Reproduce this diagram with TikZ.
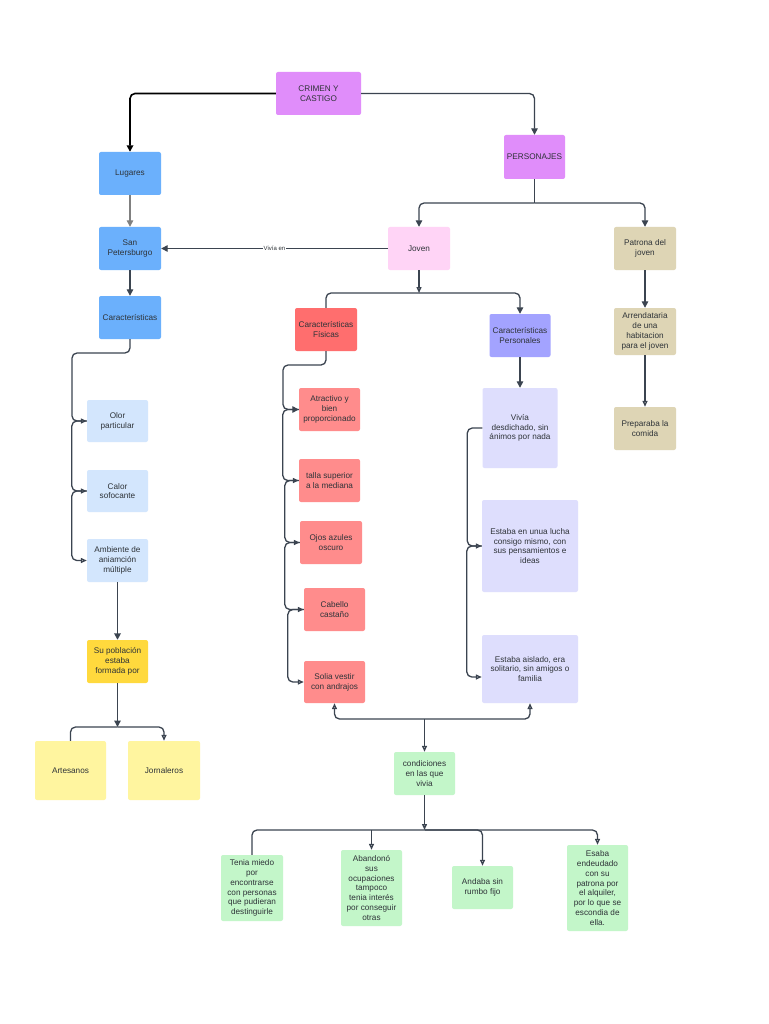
\documentclass[tikz,border=0pt]{standalone}
\usepackage{fontspec}
\setmainfont{Liberation Sans}
\usetikzlibrary{arrows.meta}
\definecolor{violetc}{HTML}{E08DFA}
\definecolor{bluec}{HTML}{6BB0FC}
\definecolor{lbluec}{HTML}{D3E6FD}
\definecolor{yellowc}{HTML}{FFD93D}
\definecolor{lyellowc}{HTML}{FFF59F}
\definecolor{pinkc}{HTML}{FFD4F6}
\definecolor{tanc}{HTML}{DED5B5}
\definecolor{redc}{HTML}{FF6E6E}
\definecolor{salmonc}{HTML}{FF8C8C}
\definecolor{purplec}{HTML}{A3A3FF}
\definecolor{lavc}{HTML}{DEDEFD}
\definecolor{greenc}{HTML}{C3F6C9}
\definecolor{txtc}{HTML}{2E3338}
\definecolor{linec}{HTML}{3B4450}
\tikzset{
  box/.style={rectangle, rounded corners=2pt, inner sep=0pt, align=center,
    text=txtc, font=\fontsize{8.2}{9.8}\selectfont},
  sz/.style 2 args={minimum width=#1pt, minimum height=#2pt},
  conn/.style={draw=linec, line width=1.3pt, rounded corners=5pt},
  fa/.style={-{Triangle[length=6.5pt,width=6.5pt]}},
  oa/.style={-{Triangle[open,length=6pt,width=5pt]}},
  lbl/.style={fill=white, inner sep=0.6pt, text=txtc, font=\fontsize{6}{7}\selectfont}
}
\begin{document}
\begin{tikzpicture}[x=1pt,y=-1pt]
\fill[white] (0,0) rectangle (768,1024);
\useasboundingbox (0,0) rectangle (768,1024);
% nodes
\node[box, fill=violetc, sz={85}{43}] (crimen) at (318.5,93.5) {CRIMEN Y\\CASTIGO};
\node[box, fill=violetc, sz={61}{44}] (personajes) at (534.5,157) {PERSONAJES};
\node[box, fill=bluec, sz={62}{43}] (lugares) at (130,173.5) {Lugares};
\node[box, fill=bluec, sz={62}{43}] (sanpet) at (130,248.5) {San\\Petersburgo};
\node[box, fill=bluec, sz={62}{43}] (caract) at (130,317.5) {Características};
\node[box, fill=lbluec, sz={61}{42}] (olor) at (117.5,421) {Olor\\particular};
\node[box, fill=lbluec, sz={61}{42}] (calor) at (117.5,491) {Calor\\sofocante};
\node[box, fill=lbluec, sz={61}{43}] (ambiente) at (117.5,560.5) {Ambiente de\\aniamción\\múltiple};
\node[box, fill=yellowc, sz={61}{43}] (poblacion) at (117.5,661.5) {Su población\\estaba\\formada por};
\node[box, fill=lyellowc, sz={71}{59}] (artesanos) at (70.5,770.5) {Artesanos};
\node[box, fill=lyellowc, sz={72}{59}] (jornaleros) at (164,770.5) {Jornaleros};
\node[box, fill=pinkc, sz={62}{43}] (joven) at (419,248.5) {Joven};
\node[box, fill=tanc, sz={62}{43}] (patrona) at (645,248.5) {Patrona del\\joven};
\node[box, fill=tanc, sz={62}{47}] (arrend) at (645,331.5) {Arrendataria\\de una\\habitacion\\para el joven};
\node[box, fill=tanc, sz={62}{43}] (prepara) at (645,428.5) {Preparaba la\\comida};
\node[box, fill=redc, sz={62}{43}] (fisicas) at (326,329.5) {Características\\Físicas};
\node[box, fill=purplec, sz={61}{43}] (personales) at (520,335.5) {Características\\Personales};
\node[box, fill=lavc, sz={75}{80}] (vivia) at (520,428) {Vivía\\desdichado, sin\\ánimos por nada};
\node[box, fill=lavc, sz={96}{92}] (lucha) at (530,546) {Estaba en unua lucha\\consigo mismo, con\\sus pensamientos e\\ideas};
\node[box, fill=lavc, sz={96}{68}] (aislado) at (530,669) {Estaba aislado, era\\solitario, sin amigos o\\familia};
\node[box, fill=salmonc, sz={61}{43}] (atractivo) at (329.5,409.5) {Atractivo y\\bien\\proporcionado};
\node[box, fill=salmonc, sz={61}{43}] (talla) at (329.5,480.5) {talla superior\\a la mediana};
\node[box, fill=salmonc, sz={62}{43}] (ojos) at (331,542.5) {Ojos azules\\oscuro};
\node[box, fill=salmonc, sz={61}{43}] (cabello) at (334.5,609.5) {Cabello\\castaño};
\node[box, fill=salmonc, sz={61}{42}] (solia) at (334.5,682) {Solia vestir\\con andrajos};
\node[box, fill=greenc, sz={61}{43}] (condiciones) at (424.5,773.5) {condiciones\\en las que\\vivia};
\node[box, fill=greenc, sz={62}{66}] (tenia) at (252,888) {Tenia miedo\\por\\encontrarse\\con personas\\que pudieran\\destinguirle};
\node[box, fill=greenc, sz={61}{76}] (abandono) at (371.5,888) {Abandonó\\sus\\ocupaciones\\tampoco\\tenia interés\\por conseguir\\otras};
\node[box, fill=greenc, sz={61}{43}] (andaba) at (482.5,887.5) {Andaba sin\\rumbo fijo};
\node[box, fill=greenc, sz={61}{86}] (esaba) at (597.5,888) {Esaba\\endeudado\\con su\\patrona por\\el alquiler,\\por lo que se\\escondia de\\ella.};
% junction coordinates
\coordinate (pj) at (534.5,203);
\coordinate (jv) at (419,293);
\coordinate (pb) at (117.5,727);
\coordinate (cj) at (424.5,719);
\coordinate (cb) at (424.5,830);
% connectors
\draw[conn, draw=black, line width=1.6pt, fa] (crimen.west) -| (lugares.north);
\draw[conn, fa] (crimen.east) -| (personajes.north);
\draw[conn, draw=gray, fa] (lugares.south) -- (sanpet.north);
\draw[conn, fa] (sanpet.south) -- (caract.north);
\draw[conn, fa] (joven.west) -- node[lbl, pos=0.5]{Vivía en} (sanpet.east);
\draw[conn] (personajes.south) -- (pj);
\draw[conn, fa] (pj) -| (joven.north);
\draw[conn, fa] (pj) -| (patrona.north);
\draw[conn, fa] (patrona.south) -- (arrend.north);
\draw[conn, oa] (arrend.south) -- (prepara.north);
% joven branches
\draw[conn, oa] (joven.south) -- (jv);
\draw[conn] (jv) -| (fisicas.north);
\draw[conn, fa] (jv) -| (personales.north);
% left chain
\draw[conn, oa] (caract.south) |- (72,353) |- (olor.west);
\draw[conn, oa] (olor.west) -- ++(-15,0) |- (calor.west);
\draw[conn, oa] (calor.west) -- ++(-15,0) |- (ambiente.west);
\draw[conn, line width=1.8pt, fa] (ambiente.south) -- (poblacion.north);
\draw[conn, fa] (poblacion.south) -- (pb);
\draw[conn] (pb) -| (artesanos.north);
\draw[conn, oa] (pb) -| (jornaleros.north);
% fisicas chain
\draw[conn, fa] (fisicas.south) |- (283,365) |- (atractivo.west);
\draw[conn, oa] (atractivo.west) -- ++(-16,0) |- (talla.west);
\draw[conn, oa] (talla.west) -- ++(-14,0) |- (ojos.west);
\draw[conn, oa] (ojos.west) -- ++(-15,0) |- (cabello.west);
\draw[conn, oa] (cabello.west) -- ++(-16,0) |- (solia.west);
% personales chain
\draw[conn, fa] (personales.south) -- (vivia.north);
\draw[conn, oa] (vivia.west) -- ++(-15,0) |- (lucha.west);
\draw[conn, oa] (lucha.west) -- ++(-15,0) |- ([yshift=-8pt]aislado.west);
% condiciones
\draw[conn, {Triangle[open,length=6pt,width=5pt]}-{Triangle[open,length=6pt,width=5pt]}] (solia.south) |- (cj) -| (aislado.south);
\draw[conn, oa] (cj) -- (condiciones.north);
\draw[conn, oa] (condiciones.south) -- (cb);
\draw[conn] (cb) -| (tenia.north);
\draw[conn, oa] (abandono.north |- cb) -- (abandono.north);
\draw[conn, oa] (cb) -| (andaba.north);
\draw[conn, oa] (cb) -| (esaba.north);
\end{tikzpicture}
\end{document}
